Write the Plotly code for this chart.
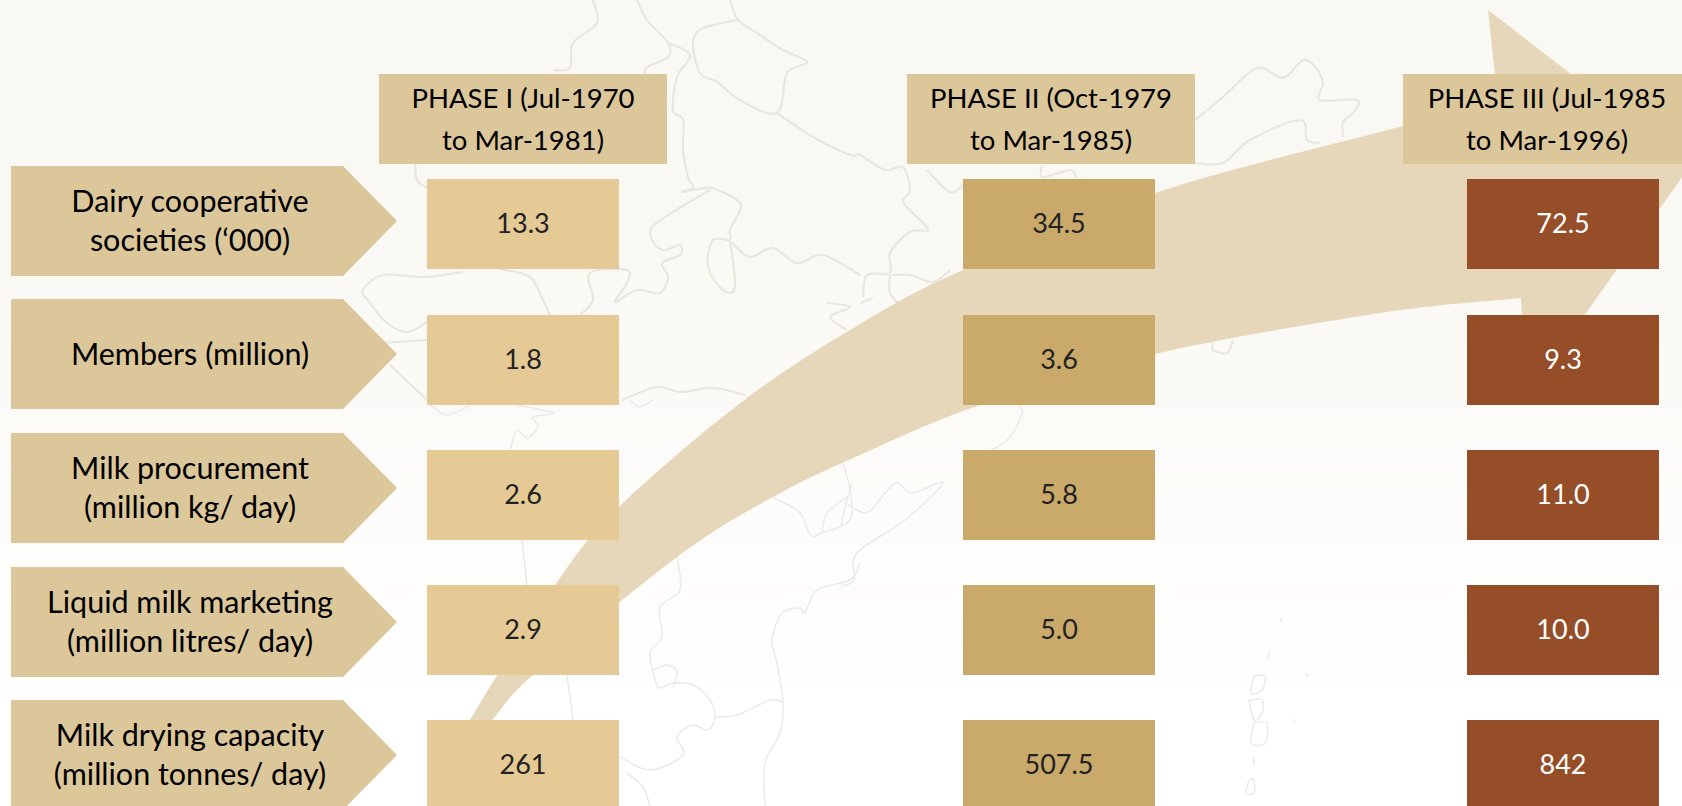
import plotly.graph_objects as go

# ---------- data ----------
phases = ["PHASE I", "PHASE II", "PHASE III"]
header_lines = [
    ["PHASE I (Jul-1970", "to Mar-1981)"],
    ["PHASE II (Oct-1979", "to Mar-1985)"],
    ["PHASE III (Jul-1985", "to Mar-1996)"],
]
row_lines = [
    ["Dairy cooperative", "societies (‘000)"],
    ["Members (million)"],
    ["Milk procurement", "(million kg/ day)"],
    ["Liquid milk marketing", "(million litres/ day)"],
    ["Milk drying capacity", "(million tonnes/ day)"],
]
phase1_values = ["13.3", "1.8", "2.6", "2.9", "261"]
phase2_values = ["34.5", "3.6", "5.8", "5.0", "507.5"]
phase3_values = ["72.5", "9.3", "11.0", "10.0", "842"]
phase_values = [phase1_values, phase2_values, phase3_values]

# ---------- layout constants (page pixels) ----------
W, H = 1682, 806
FONT = "Lato"
FS_VALUE, FS_HEAD, FS_LABEL = 27, 27.5, 30.5
cell_cx = [523, 1059, 1563]
cell_w = 192
cell_top = [179, 315, 450, 585, 720]
cell_h = 90
cell_colors = ["#E5CA96", "#C9AA6A", "#964E29"]
value_colors = ["#222222", "#222222", "#FFFFFF"]
head_x = [(379, 667), (907, 1195), (1403, 1691)]
head_y = (74, 164)
label_top = [166, 299, 433, 567, 700]
label_h = 110
TAN = "#DCC79B"
ARROW = "#E6D7BA"

# big arrow edges
upper_edge = [(445, 770), (470, 720), (555, 585), (618, 508), (743, 401), (860, 324),
              (963, 270), (1155, 193), (1380, 132), (1498, 103)]
lower_edge = [(1521, 298), (1380, 313), (1155, 354), (980, 405), (860, 455), (773, 497),
              (677, 557), (533, 675), (492, 720), (445, 770)]
head_pts = [(1498, 103), (1488, 10), (1690, 166), (1526, 398), (1521, 298)]

# background map outline
map_upper = [
    [(593,0),(597,23),(573,43),(570,68),(553,70)],
    [(637,0),(647,20),(668,43),(668,57),(647,67),(645,74)],
    [(730,0),(738,20),(757,33),(783,50),(807,62),(787,73),(777,113),(740,100),(717,82),(700,73),(693,43),(703,28),(738,20)],
    [(668,43),(690,55),(677,77),(673,110),(683,120),(683,150),(688,177),(693,187),(683,192),(710,188),(737,200),(740,210),(730,230),(730,240),(713,240),(708,267),(723,290),(735,287),(730,240)],
    [(710,190),(673,212),(652,227),(652,240),(663,250),(680,245),(680,255),(662,263),(668,277),(660,293),(637,290),(615,302),(627,283),(627,270),(590,273),(593,300),(580,315)],
    [(463,272),(423,277),(383,275),(363,290),(370,303),(387,323),(407,332),(427,322)],
    [(500,269),(530,277),(543,300),(550,315)],
    [(390,365),(427,400)],
    [(383,343),(427,340)],
    [(415,164),(417,180),(427,188)],
    [(777,113),(813,137),(850,155),(860,155),(885,170),(903,167),(910,190),(903,202),(917,217),(928,230),(910,232),(890,253),(890,273),(867,275),(863,297)],
    [(927,170),(950,192),(963,185)],
    [(732,243),(750,257),(773,248),(797,263),(823,255),(860,275)],
    [(827,303),(850,307),(830,317),(847,330)],
    [(892,275),(910,275),(933,282),(950,270)],
    [(890,275),(890,293),(900,305)],
    [(860,303),(873,298)],
    [(1195,120),(1223,97),(1257,68),(1283,78),(1303,60),(1315,67),(1323,83),(1320,100),(1357,100),(1353,113),(1343,122),(1343,137)],
    [(1195,163),(1223,163),(1250,140),(1300,120),(1307,140),(1320,143)],
    [(1042,165),(1043,177),(1070,170),(1077,178)],
    [(1213,343),(1213,350),(1227,353),(1233,340)],
    [(622,400),(657,387),(680,392),(713,388),(745,395)],
]
map_lower = [
    [(430,405),(447,415),(470,405)],
    [(630,400),(640,407),(653,400)],
    [(517,405),(553,413),(533,417),(538,427),(527,438),(517,430),(510,450)],
    [(522,540),(527,585)],
    [(567,675),(573,720)],
    [(677,557),(680,590),(660,607),(662,637),(650,653),(655,680),(660,688),(673,683),(693,685),(710,700),(715,717),(708,730),(693,725),(677,737),(683,755),(650,770),(620,757)],
    [(627,773),(643,787),(650,806)],
    [(653,670),(667,665),(677,672),(673,687)],
    [(715,717),(737,715),(770,700),(783,702)],
    [(860,563),(850,580),(817,590),(805,613),(800,608),(782,613),(772,640),(777,663),(783,702),(780,733),(765,763),(765,806)],
    [(773,497),(800,513),(810,535),(822,533),(850,520),(850,490),(843,463)],
    [(822,533),(827,513),(847,497)],
    [(852,483),(846,503),(841,526)],
    [(846,503),(857,510),(870,511),(895,483),(911,493),(943,483),(905,520),(857,553),(854,580),(841,586)],
    [(1018,405),(1022,413),(1007,440),(962,466)],
    [(1254,676),(1251,693),(1262,690),(1265,676),(1254,676)],
    [(1249,700),(1254,720),(1262,713),(1262,700),(1249,700)],
    [(1254,723),(1251,743),(1265,743),(1267,723),(1254,723)],
    [(1254,756),(1254,765)],
    [(1249,780),(1246,793),(1254,793),(1254,780),(1249,780)],
    [(1270,651),(1267,660)],
    [(1281,618),(1281,623)],
    [(1307,673),(1307,677)],
    [(1294,719),(1294,723)],
]


def smooth(points):
    """Catmull-Rom through the points, as SVG cubic segments."""
    out = ""
    n = len(points)
    for i in range(n - 1):
        p0 = points[max(i - 1, 0)]
        p1 = points[i]
        p2 = points[i + 1]
        p3 = points[min(i + 2, n - 1)]
        c1 = (p1[0] + (p2[0] - p0[0]) / 6, p1[1] + (p2[1] - p0[1]) / 6)
        c2 = (p2[0] - (p3[0] - p1[0]) / 6, p2[1] - (p3[1] - p1[1]) / 6)
        out += f" C {c1[0]:.1f} {c1[1]:.1f} {c2[0]:.1f} {c2[1]:.1f} {p2[0]} {p2[1]}"
    return out


shapes = []
# soft page background, cream at the top fading to white
steps = 80
for i in range(steps):
    t = min(1.0, max(0.0, (i / (steps - 1) - 0.25) / 0.6))
    c = (int(250 + 5 * t), int(248 + 7 * t), int(243 + 12 * t))
    shapes.append(dict(type="rect", xref="x", yref="y", layer="below", line_width=0,
                       x0=0, x1=W, y0=H * i / steps, y1=H * (i + 1) / steps + 1,
                       fillcolor=f"rgb{c}"))


def map_path(lines):
    return " ".join(f"M {ln[0][0]} {ln[0][1]}" + smooth(ln) for ln in lines)


shapes.append(dict(type="path", xref="x", yref="y", layer="below", path=map_path(map_upper),
                   line=dict(color="#E9E6DF", width=2.2)))
shapes.append(dict(type="path", xref="x", yref="y", layer="below", path=map_path(map_lower),
                   line=dict(color="#EAEAE8", width=1.5)))
arrow_path = (f"M {upper_edge[0][0]} {upper_edge[0][1]}" + smooth(upper_edge)
              + "".join(f" L {x} {y}" for x, y in head_pts)
              + smooth(lower_edge) + " Z")
shapes.append(dict(type="path", xref="x", yref="y", layer="below", path=arrow_path,
                   fillcolor=ARROW, line_width=0))

fig = go.Figure()

# value cells
for j, name in enumerate(phases):
    fig.add_trace(go.Bar(
        name=name, orientation="v",
        x=[cell_cx[j]] * len(cell_top), y=[cell_h] * len(cell_top), base=cell_top,
        width=cell_w, marker=dict(color=cell_colors[j], line_width=0),
        hoverinfo="skip",
    ))
    fig.add_trace(go.Scatter(
        x=[cell_cx[j]] * len(cell_top), y=[t + cell_h / 2 + 2.5 for t in cell_top],
        mode="text", text=phase_values[j], hoverinfo="skip",
        textfont=dict(family=FONT, size=FS_VALUE, color=value_colors[j]),
    ))

# phase headers
for j, lines in enumerate(header_lines):
    x0, x1 = head_x[j]
    fig.add_trace(go.Scatter(
        x=[x0, x1, x1, x0, x0], y=[head_y[0], head_y[0], head_y[1], head_y[1], head_y[0]],
        mode="lines", fill="toself", fillcolor=TAN, line_width=0, hoverinfo="skip"))
    cx = (x0 + min(x1, W + 9)) / 2
    fig.add_trace(go.Scatter(
        x=[cx] * len(lines), y=[101, 143], mode="text", text=lines,
        textfont=dict(family=FONT, size=FS_HEAD, color="#000000"), hoverinfo="skip"))

# row labels (pentagon arrows)
for top, lines in zip(label_top, row_lines):
    mid = top + label_h / 2
    fig.add_trace(go.Scatter(
        x=[11, 343, 397, 343, 11, 11],
        y=[top, top, mid, top + label_h, top + label_h, top],
        mode="lines", fill="toself", fillcolor=TAN, line_width=0, hoverinfo="skip"))
    ys = [mid - 17, mid + 22] if len(lines) == 2 else [mid + 3]
    fig.add_trace(go.Scatter(
        x=[190] * len(lines), y=ys, mode="text", text=lines,
        textfont=dict(family=FONT, size=FS_LABEL, color="#000000"), hoverinfo="skip"))

fig.update_layout(
    width=W, height=H, margin=dict(l=0, r=0, t=0, b=0),
    paper_bgcolor="#FFFFFF", plot_bgcolor="rgba(0,0,0,0)",
    showlegend=False, barmode="overlay", shapes=shapes,
    xaxis=dict(range=[0, W], visible=False, fixedrange=True),
    yaxis=dict(range=[H, 0], visible=False, fixedrange=True),
)
fig.write_html("out.html", config=dict(displayModeBar=False),
               post_script="document.body.style.margin='0';document.body.style.overflow='hidden';")
